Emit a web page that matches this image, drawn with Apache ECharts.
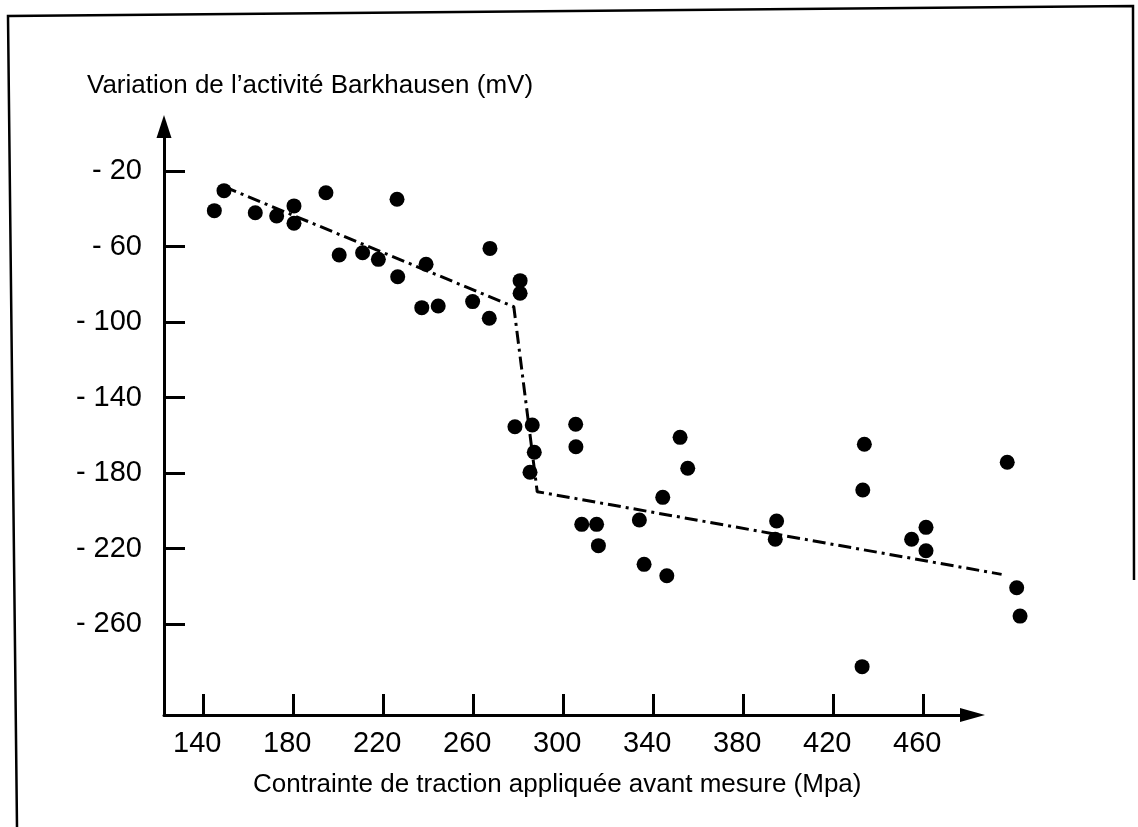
<!DOCTYPE html>
<html>
<head>
<meta charset="utf-8">
<script src="https://cdn.jsdelivr.net/npm/echarts@6/dist/echarts.min.js"></script>
<style>
  html,body{margin:0;padding:0;background:#fff;}
  #chart{width:1138px;height:827px;}
</style>
</head>
<body>
<div id="chart"></div>
<script>
// points (contrainte MPa, variation mV)
var stress = [144.9,149.2,163.1,172.6,180.3,180.3,194.5,200.4,210.8,217.8,226.1,226.4,239.0,237.1,244.4,259.7,267.1,267.4,280.8,280.8,
              278.5,286.2,287.1,285.2,305.5,305.6,308.2,314.8,315.6,333.8,335.9,346.0,344.2,351.9,355.3,394.8,394.2,433.8,433.1,432.8,
              454.8,461.2,461.2,497.3,501.5,503.0];
var barkh  = [-41.0,-30.4,-42.1,-43.8,-38.5,-47.7,-31.5,-64.5,-63.3,-66.8,-35.0,-76.0,-69.4,-92.4,-91.5,-89.2,-98.0,-61.0,-78.1,-84.8,
              -155.5,-154.6,-169.0,-179.6,-154.2,-166.1,-207.2,-207.2,-218.5,-204.9,-228.4,-234.4,-192.9,-161.1,-177.5,-205.4,-215.1,-164.8,-189.0,-282.6,
              -215.1,-208.8,-221.2,-174.3,-240.8,-255.8];
// droite brisée (tendance)
var trendX = [149.2, 278.0, 288.4, 494.8];
var trendY = [-28.3, -91.9, -189.9, -233.7];
var xTicks = [140,180,220,260,300,340,380,420,460];
var yTicks = [-260,-220,-180,-140,-100,-60,-20];

var pts = stress.map(function(v,i){ return [v, barkh[i]]; });
var trend = trendX.map(function(v,i){ return [v, trendY[i]]; });

var font = "'Liberation Sans', Arial, Helvetica, sans-serif";
// échelle commune : 2.25 px par MPa, 1.8875 px par mV
var xMin = 122.53, xAxisMax = 481.87, xDataMax = 512;
var yMin = -308.2, yMax = 3.58;
var pxX = 2.25, pxY = 1.8875;
var gLeft = 164, gTop = 126.5;

var myChart = echarts.init(document.getElementById('chart'));
var option = {
  backgroundColor:'#fff',
  animation:false,
  title:{
    text:"Variation de l\u2019activité Barkhausen (mV)",
    left:82, top:68,
    textStyle:{fontFamily:font, fontSize:26, fontWeight:'normal', color:'#000'}
  },
  grid:[
    // grille des axes visibles
    {left:gLeft, top:gTop, width:(xAxisMax-xMin)*pxX, height:(yMax-yMin)*pxY},
    // grille des données (même échelle, plus large à droite)
    {left:gLeft, top:gTop, width:(xDataMax-xMin)*pxX, height:(yMax-yMin)*pxY}
  ],
  xAxis:[{
    gridIndex:0, type:'value', min:xMin, max:xAxisMax,
    name:'Contrainte de traction appliquée avant mesure (Mpa)',
    nameLocation:'middle', nameGap:57,
    nameTextStyle:{fontFamily:font, fontSize:26, color:'#000', padding:[0,22,0,0]},
    axisLine:{show:true, onZero:false, symbol:['none','triangle'], symbolSize:[14,25], lineStyle:{color:'#000', width:3}},
    axisTick:{show:true, inside:true, length:21, customValues:xTicks, lineStyle:{color:'#000', width:3}},
    axisLabel:{fontFamily:font, fontSize:29, color:'#000', margin:15, padding:[0,12,0,0], customValues:xTicks},
    splitLine:{show:false}
  },{
    gridIndex:1, type:'value', min:xMin, max:xDataMax, show:false
  }],
  yAxis:[{
    gridIndex:0, type:'value', min:yMin, max:yMax,
    axisLine:{show:true, onZero:false, symbol:['none','triangle'], symbolSize:[15,23], lineStyle:{color:'#000', width:3}},
    axisTick:{show:true, inside:true, length:21, customValues:yTicks, lineStyle:{color:'#000', width:3}},
    axisLabel:{fontFamily:font, fontSize:29, color:'#000', margin:22, customValues:yTicks,
      formatter:function(v){ return '- ' + Math.abs(v); }},
    splitLine:{show:false}
  },{
    gridIndex:1, type:'value', min:yMin, max:yMax, show:false
  }],
  graphic:[{
    type:'polyline', silent:true,
    shape:{points:[[17,827],[8,16],[1133,6],[1134,580]]},
    style:{stroke:'#000', lineWidth:2.5, fill:null}
  }],
  series:[
    {
      type:'line', xAxisIndex:1, yAxisIndex:1, data:trend, symbol:'none',
      lineStyle:{color:'#000', width:3, type:[13,5,3,5]}
    },
    {
      type:'scatter', xAxisIndex:1, yAxisIndex:1, data:pts, symbol:'circle', symbolSize:15,
      itemStyle:{color:'#000', opacity:1}
    }
  ]
};
myChart.setOption(option);
window.onresize = myChart.resize;
</script>
</body>
</html>
